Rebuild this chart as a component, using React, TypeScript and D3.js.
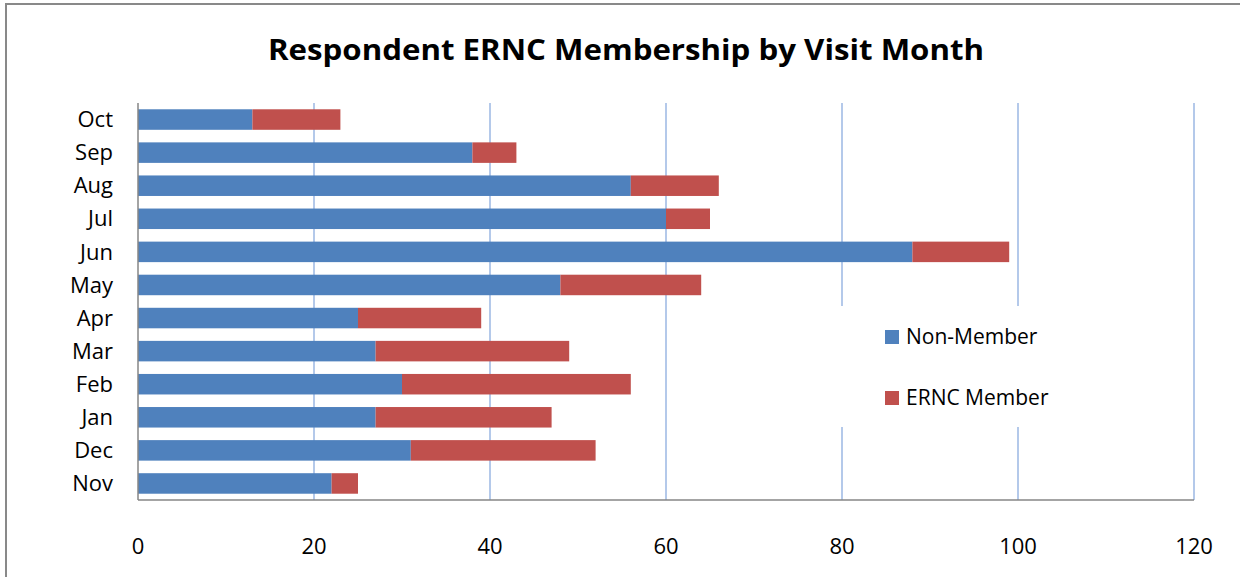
import React, { useRef, useEffect } from 'react';
import * as d3 from 'd3';

const months = ['Oct', 'Sep', 'Aug', 'Jul', 'Jun', 'May', 'Apr', 'Mar', 'Feb', 'Jan', 'Dec', 'Nov'];
const nonMember = [13, 38, 56, 60, 88, 48, 25, 27, 30, 27, 31, 22];
const ernMember = [10, 5, 10, 5, 11, 16, 14, 22, 26, 20, 21, 3];
const xTicks = [0, 20, 40, 60, 80, 100, 120];
const seriesNames = ['Non-Member', 'ERNC Member'];
const seriesColors = ['#4f81bd', '#c0504d'];

function App() {
  const d3Container = useRef<HTMLDivElement>(null);

  const width = 1240;
  const height = 577;
  const margin = { top: 103, right: 46, bottom: 77, left: 138 };
  const innerW = width - margin.left - margin.right;
  const innerH = height - margin.top - margin.bottom;

  useEffect(() => {
    if (!d3Container.current) return;
    d3.select(d3Container.current).selectAll('*').remove();

    const root = d3
      .select(d3Container.current)
      .append('svg')
      .attr('width', width)
      .attr('height', height)
      .style('display', 'block')
      .style('font-family', '"Open Sans", "Noto Sans", sans-serif');

    root.append('rect').attr('width', width).attr('height', height).attr('fill', '#fff');
    // chart frame
    root
      .append('rect')
      .attr('x', 6)
      .attr('y', 4)
      .attr('width', width + 20)
      .attr('height', height + 20)
      .attr('fill', 'none')
      .attr('stroke', '#898989')
      .attr('stroke-width', 2);

    root
      .append('text')
      .attr('x', 626)
      .attr('y', 60)
      .attr('text-anchor', 'middle')
      .attr('font-size', 28)
      .attr('font-weight', 'bold')
      .attr('fill', '#000')
      .attr('textLength', 716)
      .attr('lengthAdjust', 'spacingAndGlyphs')
      .text('Respondent ERNC Membership by Visit Month');

    const svg = root.append('g').attr('transform', `translate(${margin.left},${margin.top})`);

    const x = d3.scaleLinear().domain([0, 120]).range([0, innerW]);
    const y = d3.scaleBand().domain(months).range([0, innerH]).paddingInner(0.38).paddingOuter(0.19);

    // gridlines
    svg
      .selectAll('line.grid')
      .data(xTicks.filter((t) => t > 0))
      .enter()
      .append('line')
      .attr('class', 'grid')
      .attr('x1', (d) => x(d))
      .attr('x2', (d) => x(d))
      .attr('y1', 0)
      .attr('y2', innerH)
      .attr('stroke', '#b4c9ea')
      .attr('stroke-width', 2);

    const rows = months.map((m, i) => ({ m, a: nonMember[i], b: ernMember[i] }));

    svg
      .selectAll('rect.nm')
      .data(rows)
      .enter()
      .append('rect')
      .attr('x', x(0))
      .attr('y', (d) => y(d.m)!)
      .attr('width', (d) => x(d.a) - x(0))
      .attr('height', y.bandwidth())
      .attr('fill', seriesColors[0]);

    svg
      .selectAll('rect.em')
      .data(rows)
      .enter()
      .append('rect')
      .attr('x', (d) => x(d.a))
      .attr('y', (d) => y(d.m)!)
      .attr('width', (d) => x(d.a + d.b) - x(d.a))
      .attr('height', y.bandwidth())
      .attr('fill', seriesColors[1]);

    // axes
    svg
      .append('line')
      .attr('x1', 0)
      .attr('x2', innerW)
      .attr('y1', innerH)
      .attr('y2', innerH)
      .attr('stroke', '#868686')
      .attr('stroke-width', 1.5);
    svg
      .append('line')
      .attr('x1', 0)
      .attr('x2', 0)
      .attr('y1', 0)
      .attr('y2', innerH)
      .attr('stroke', '#868686')
      .attr('stroke-width', 1.5);

    svg
      .selectAll('text.xt')
      .data(xTicks)
      .enter()
      .append('text')
      .attr('x', (d) => x(d))
      .attr('y', innerH + 54)
      .attr('text-anchor', 'middle')
      .attr('font-size', 22)
      .attr('fill', '#000')
      .text((d) => d);

    svg
      .selectAll('text.yt')
      .data(months)
      .enter()
      .append('text')
      .attr('x', -25)
      .attr('y', (d) => y(d)! + y.bandwidth() / 2)
      .attr('dy', '0.35em')
      .attr('text-anchor', 'end')
      .attr('font-size', 22)
      .attr('fill', '#000')
      .text((d) => d);

    // legend
    const legend = root.append('g').attr('transform', 'translate(836,306)');
    legend.append('rect').attr('width', 224).attr('height', 121).attr('fill', '#fff');
    seriesNames.forEach((name, i) => {
      const g = legend.append('g').attr('transform', `translate(49,${24 + i * 61})`);
      g.append('rect').attr('width', 14).attr('height', 14).attr('fill', seriesColors[i]);
      g.append('text')
        .attr('x', 21)
        .attr('y', 7)
        .attr('dy', '0.35em')
        .attr('font-size', 21)
        .attr('fill', '#000')
        .text(name);
    });
  }, []);

  return <div ref={d3Container} style={{ position: 'absolute', left: 0, top: 0 }} />;
}

export default App;
